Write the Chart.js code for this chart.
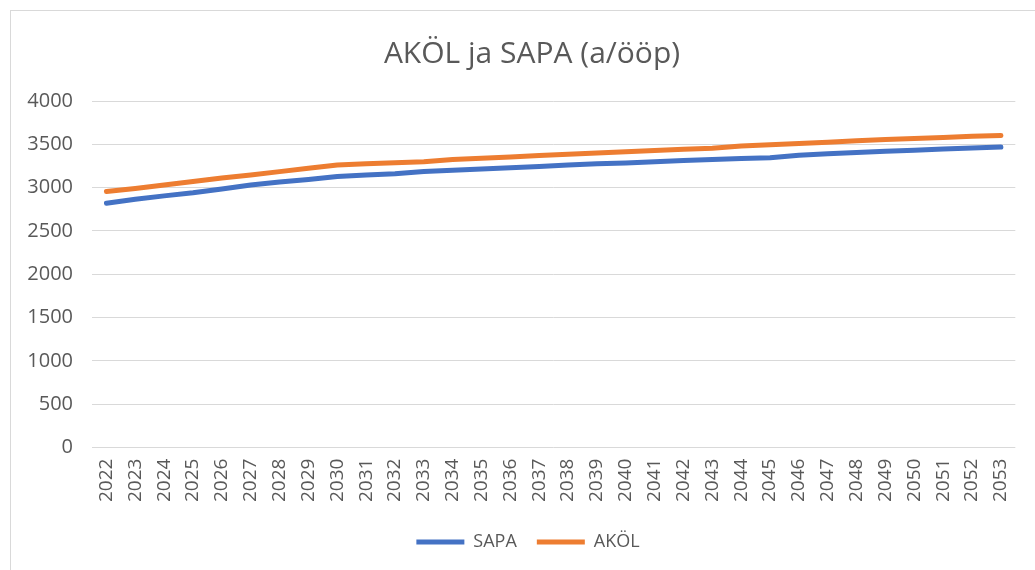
<!DOCTYPE html>
<html>
<head>
<meta charset="utf-8">
<script src="https://cdn.jsdelivr.net/npm/chart.js@4"></script>
<style>
  html, body { margin: 0; padding: 0; background: #fff; overflow: hidden; }
  #wrap { position: relative; width: 1035px; height: 570px; }
  #frame { position: absolute; left: 10px; top: 10px; width: 1040px; height: 580px; border: 1px solid #d9d9d9; box-sizing: border-box; }
  canvas { position: absolute; left: 0; top: 0; }
</style>
</head>
<body>
<div id="wrap">
  <div id="frame"></div>
  <canvas id="chart" width="1035" height="570"></canvas>
</div>
<script>
// aastad
const years = [
  "2022", "2023", "2024", "2025", "2026", "2027", "2028", "2029",
  "2030", "2031", "2032", "2033", "2034", "2035", "2036", "2037",
  "2038", "2039", "2040", "2041", "2042", "2043", "2044", "2045",
  "2046", "2047", "2048", "2049", "2050", "2051", "2052", "2053"
];

const sapa = [
  2820, 2865, 2905, 2940, 2985, 3030, 3065, 3095,
  3128, 3145, 3160, 3185, 3200, 3215, 3230, 3245,
  3260, 3275, 3285, 3300, 3312, 3325, 3335, 3345,
  3375, 3390, 3405, 3420, 3432, 3445, 3457, 3468
];

const akol = [
  2955, 2990, 3030, 3070, 3110, 3145, 3185, 3225,
  3260, 3275, 3287, 3300, 3325, 3340, 3355, 3370,
  3385, 3400, 3415, 3430, 3442, 3455, 3480, 3495,
  3510, 3525, 3540, 3555, 3567, 3580, 3592, 3603
];

const yTicks = [0, 500, 1000, 1500, 2000, 2500, 3000, 3500, 4000];

const textColor = "#595959";
const gridColor = "#d9d9d9";
const fontFamily = "'Open Sans', sans-serif";

// pealkiri ja legend on veidi paremal kui keskel
const boxShift = {
  id: "boxShift",
  afterLayout(chart) {
    chart.legend.left += 16;
    chart.titleBlock.left += 24;
  },
};

const ctx = document.getElementById("chart").getContext("2d");

new Chart(ctx, {
  type: "line",
  data: {
    labels: years,
    datasets: [
      {
        label: "SAPA",
        data: sapa,
        borderColor: "#4472C4",
        backgroundColor: "#4472C4",
        borderWidth: 5,
        borderCapStyle: "round",
        borderJoinStyle: "round",
        pointRadius: 0,
        tension: 0,
        fill: false,
      },
      {
        label: "AKÖL",
        data: akol,
        borderColor: "#ED7D31",
        backgroundColor: "#ED7D31",
        borderWidth: 5,
        borderCapStyle: "round",
        borderJoinStyle: "round",
        pointRadius: 0,
        tension: 0,
        fill: false,
      },
    ],
  },
  plugins: [boxShift],
  options: {
    responsive: false,
    animation: false,
    devicePixelRatio: 1,
    layout: {
      padding: { left: 24, right: 19, top: 0, bottom: 9 },
    },
    plugins: {
      title: {
        display: true,
        text: "AKÖL ja SAPA (a/ööp)",
        color: textColor,
        font: { family: fontFamily, size: 30, weight: "normal" },
        padding: { top: 36, bottom: 29 },
      },
      legend: {
        position: "bottom",
        labels: {
          color: textColor,
          font: { family: fontFamily, size: 18 },
          usePointStyle: true,
          pointStyle: "line",
          pointStyleWidth: 48,
          boxWidth: 48,
          padding: 20,
        },
      },
      tooltip: { enabled: false },
    },
    scales: {
      x: {
        offset: true,
        grid: { display: false, drawTicks: false },
        border: { display: false },
        ticks: {
          color: textColor,
          font: { family: fontFamily, size: 19 },
          minRotation: 90,
          maxRotation: 90,
          autoSkip: false,
          padding: 11,
        },
      },
      y: {
        min: 0,
        max: 4000,
        afterBuildTicks: (axis) => {
          axis.ticks = yTicks.map((v) => ({ value: v }));
        },
        afterFit: (axis) => {
          axis.width = 68;
        },
        grid: { color: gridColor, lineWidth: 1, drawTicks: false },
        border: { display: false },
        ticks: {
          color: textColor,
          font: { family: fontFamily, size: 20 },
          padding: 19,
          callback: (v) => String(v),
        },
      },
    },
  },
});
</script>
</body>
</html>
